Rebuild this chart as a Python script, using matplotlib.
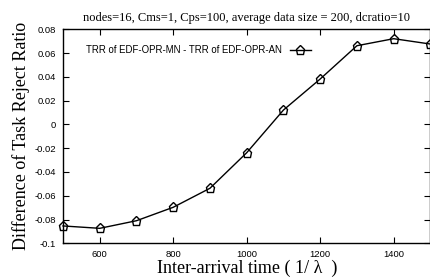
import matplotlib
matplotlib.use("Agg")
import matplotlib.pyplot as plt

x = [500, 600, 700, 800, 900, 1000, 1100, 1200, 1300, 1400, 1500]
diff = [-0.0854, -0.0874, -0.081, -0.0697, -0.0537, -0.0238, 0.0121, 0.0382, 0.0662, 0.0721, 0.0676]
series_label = "TRR of EDF-OPR-MN - TRR of EDF-OPR-AN"
title = "nodes=16, Cms=1, Cps=100, average data size = 200, dcratio=10"
xticks = [600, 800, 1000, 1200, 1400]
yticks = [-0.1, -0.08, -0.06, -0.04, -0.02, 0, 0.02, 0.04, 0.06, 0.08]
yticklabels = ["-0.1", "-0.08", "-0.06", "-0.04", "-0.02", "0", "0.02", "0.04", "0.06", "0.08"]

fig = plt.figure(figsize=(4.3, 2.78), dpi=100)
ax = fig.add_axes([0.1465, 0.1248, 0.8545, 0.7698])
ax.plot(x, diff, color="black", lw=1.0, marker="p", markersize=6.5,
        markerfacecolor="none", markeredgecolor="black", markeredgewidth=1.0,
        label=series_label, clip_on=False)
ax.set_xlim(500, 1500)
ax.set_ylim(-0.1, 0.08)
ax.set_xticks(xticks)
ax.set_xticklabels([str(t) for t in xticks], fontsize=6.8, family="Liberation Sans")
ax.set_yticks(yticks)
ax.set_yticklabels(yticklabels, fontsize=6.8, family="Liberation Sans")
ax.tick_params(direction="in", top=True, right=True, length=4, width=0.8, pad=5)
for s in ax.spines.values():
    s.set_linewidth(1.0)
ax.set_title(title, fontsize=9, family="Liberation Serif", pad=6)
ax.set_xlabel("Inter-arrival time ( 1/ λ  )", fontsize=13, family="Liberation Serif", labelpad=0)
ax.set_ylabel("Difference of Task Reject Ratio", fontsize=13, family="Liberation Serif", labelpad=3)
leg = ax.legend(loc="upper left", bbox_to_anchor=(0.04, 0.965), frameon=False, markerfirst=False,
                prop={"family": "Liberation Sans", "size": 6.9}, handlelength=2.2)
fig.savefig("out.png", dpi=100)
